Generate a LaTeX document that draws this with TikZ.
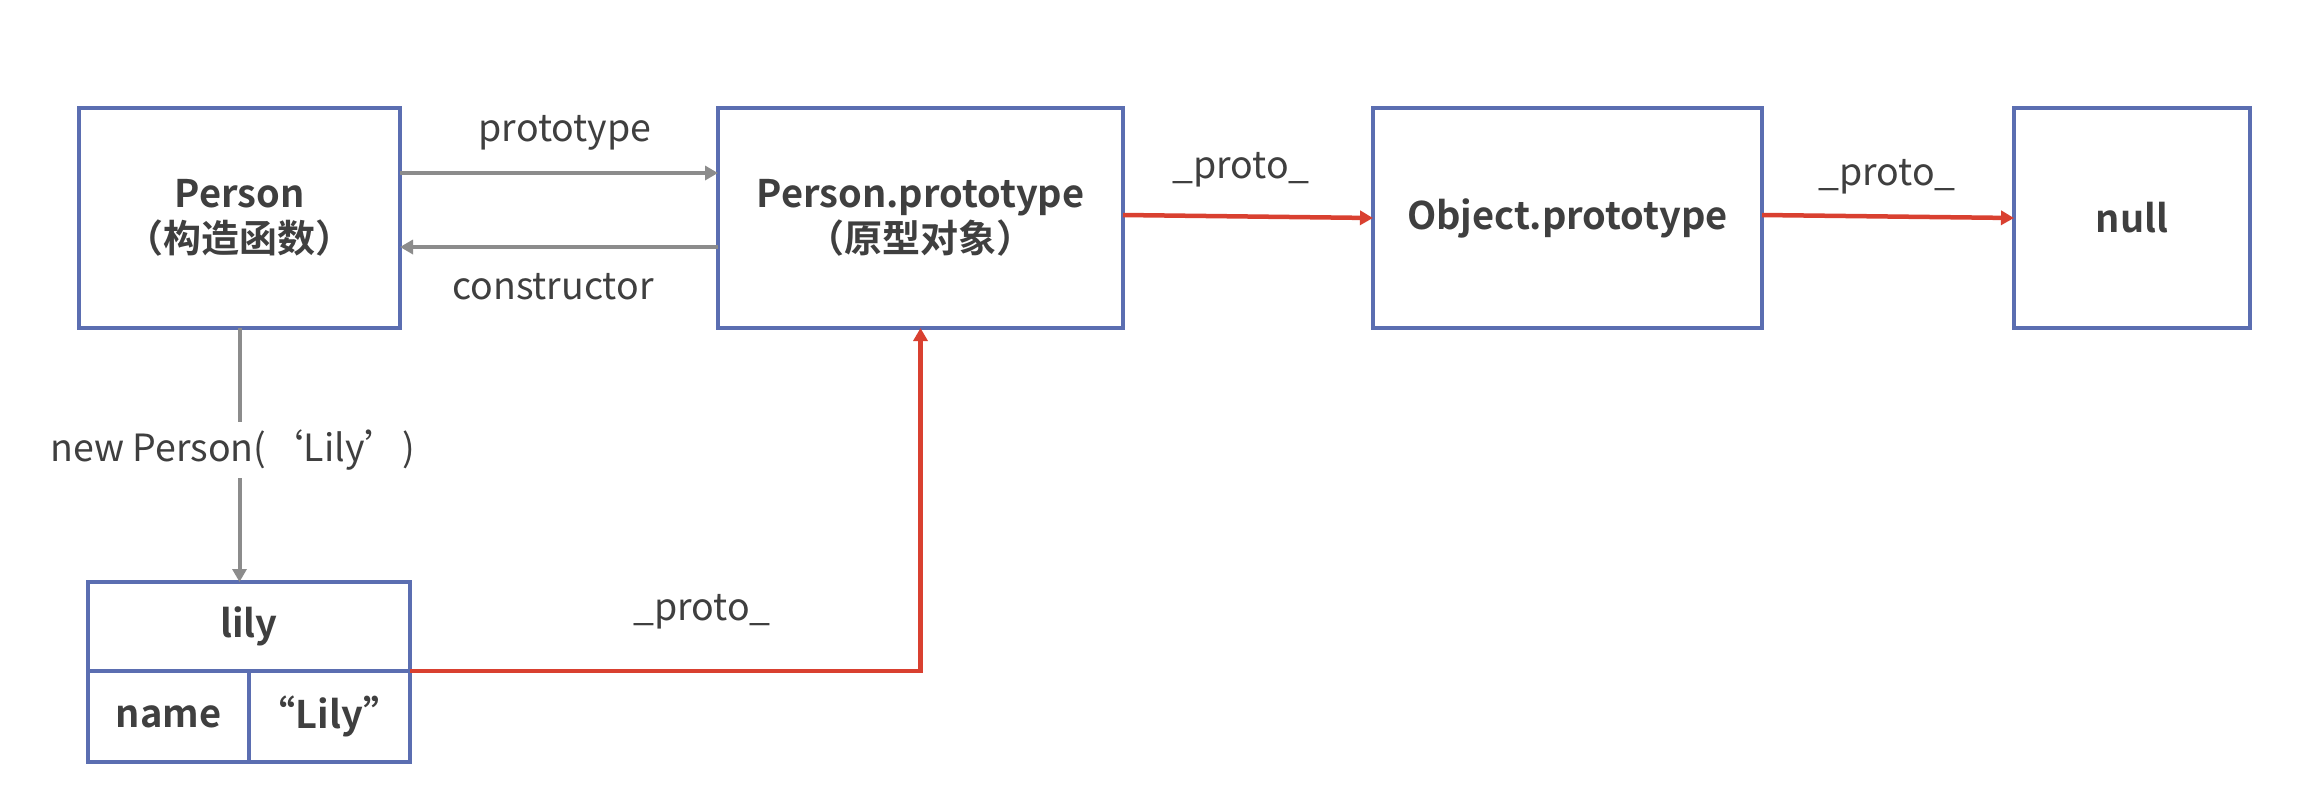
\documentclass[tikz,border=0pt]{standalone}
\usepackage{fontspec}
\setmainfont{Noto Sans CJK SC}[BoldFont={Noto Sans CJK SC Bold}]
\usetikzlibrary{arrows.meta}
\definecolor{boxblue}{HTML}{5B6EB1}
\definecolor{lgray}{HTML}{8C8C8C}
\definecolor{rred}{HTML}{D94030}
\definecolor{txt}{HTML}{3F3F3F}
\begin{document}
\begin{tikzpicture}[x=1pt,y=-1pt,
  box/.style={draw=boxblue,line width=4.5pt,rectangle,inner sep=0pt,outer sep=0pt,
    text=txt,align=center,font=\fontsize{38}{45}\selectfont\bfseries},
  lbl/.style={text=txt,inner sep=4pt,font=\fontsize{37.5}{44}\selectfont},
  grayarrow/.style={draw=lgray,line width=4pt,-{Triangle[length=13pt,width=14pt]}},
  redarrow/.style={draw=rred,line width=4.5pt,-{Triangle[length=13pt,width=14pt]}}]
\useasboundingbox (0,0) rectangle (2298,806);
\fill[white] (0,0) rectangle (2298,806);
% boxes
\node[box,minimum width=321pt,minimum height=220pt] (person) at (239.5,218) {Person\\（构造函数）};
\node[box,minimum width=405pt,minimum height=220pt] (proto) at (920.5,218) {Person.prototype\\（原型对象）};
\node[box,minimum width=389pt,minimum height=220pt] (obj) at (1567.5,218) {Object.prototype};
\node[box,minimum width=236pt,minimum height=220pt] (null) at (2132,218) {null};
\node[box,minimum width=322pt,minimum height=89pt] (lily) at (249,626.5) {lily};
\node[box,minimum width=161pt,minimum height=91pt] (name) at (168.5,716.5) {name};
\node[box,minimum width=161pt,minimum height=91pt] (val) at (329.5,716.5) {“Lily”};
% gray connectors
\draw[grayarrow] (person.east |- 0,173) -- (proto.west |- 0,173);
\draw[grayarrow] (proto.west |- 0,247) -- (person.east |- 0,247);
\node[lbl] (lprototype) at (565,133) {prototype};
\node[lbl] (lconstructor) at (553,287) {constructor};
\draw[grayarrow] (person.south) -- node[lbl,fill=white,inner sep=8pt,pos=0.48,xshift=-7pt] (lnew) {new Person(‘Lily’)} (person.south |- lily.north);
% red connectors
\draw[redarrow] (lily.south east) -| (proto.south);
\node[lbl] (lp1) at (702,612) {\_proto\_};
\draw[redarrow] (proto.east |- 0,215) -- (obj.west |- 0,218);
\node[lbl] (lp2) at (1241,170) {\_proto\_};
\draw[redarrow] (obj.east |- 0,215) -- (null.west |- 0,218);
\node[lbl] (lp3) at (1887,177) {\_proto\_};
\end{tikzpicture}
\end{document}
